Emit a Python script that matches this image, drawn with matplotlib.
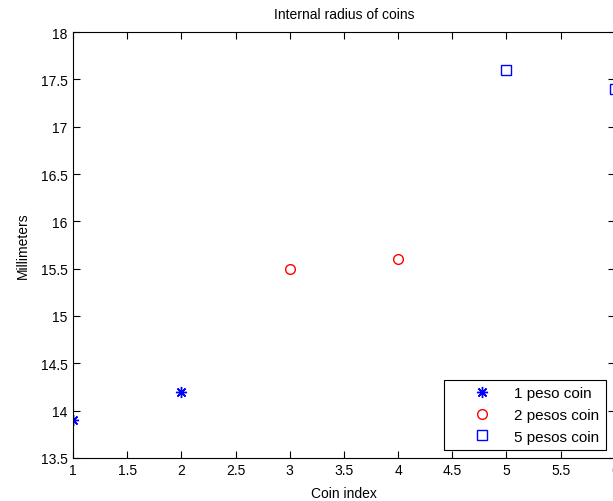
import matplotlib.pyplot as plt

plt.rcParams['font.family'] = ['Liberation Sans', 'DejaVu Sans']

x_one = [1, 2]
y_one = [13.9, 14.2]
x_two = [3, 4]
y_two = [15.5, 15.6]
x_five = [5, 6]
y_five = [17.6, 17.4]

x_ticks = [1, 1.5, 2, 2.5, 3, 3.5, 4, 4.5, 5, 5.5, 6]
y_ticks = [13.5, 14, 14.5, 15, 15.5, 16, 16.5, 17, 17.5, 18]

fig = plt.figure(figsize=(6.13, 5.02), dpi=100)
ax = fig.add_axes([0.119, 0.086, 0.884, 0.848])

# asterisk like matlab's '*' (8 spokes)
ax.plot(x_one, y_one, linestyle='none', marker=(8, 2, 0), color='blue',
        markersize=8, markeredgewidth=1.0, label='1 peso coin')
ax.plot(x_two, y_two, 'o', color='red', mfc='none', markersize=7, label='2 pesos coin')
ax.plot(x_five, y_five, 's', color='blue', mfc='none', markersize=7, label='5 pesos coin')

ax.set_xlim(1, 6)
ax.set_ylim(13.5, 18)
ax.set_xticks(x_ticks)
ax.set_yticks(y_ticks)
ax.set_xticklabels([f'{t:g}' for t in x_ticks])
ax.set_yticklabels([f'{t:g}' for t in y_ticks])
ax.tick_params(direction='in', top=True, right=True, length=5, labelsize=10, pad=4)

ax.set_title('Internal radius of coins', fontsize=10, pad=10)
ax.set_xlabel('Coin index', fontsize=10, labelpad=6)
ax.set_ylabel('Millimeters', fontsize=10, labelpad=8)

leg = ax.legend(loc='lower right', bbox_to_anchor=(0.9886, 0.1016),
                bbox_transform=fig.transFigure, borderaxespad=0,
                fancybox=False, edgecolor='black', framealpha=1,
                fontsize=11, handlelength=4.1, handletextpad=0.1,
                borderpad=0.42, labelspacing=0.5)
leg.get_frame().set_linewidth(0.8)

fig.savefig('out.png', dpi=100)
